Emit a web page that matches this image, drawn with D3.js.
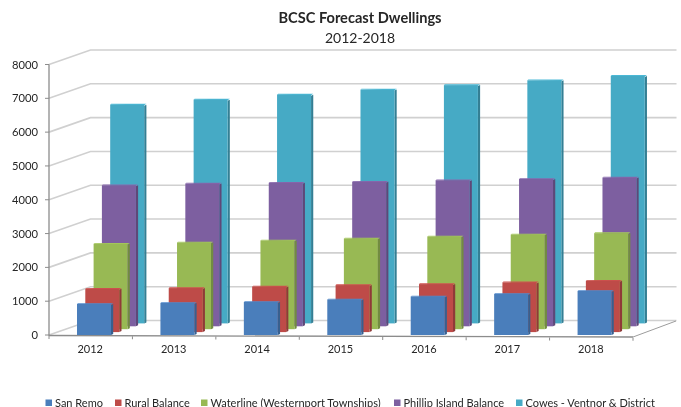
<!DOCTYPE html>
<html><head><meta charset="utf-8">
<script src="https://cdn.jsdelivr.net/npm/d3@7/dist/d3.min.js"></script>
<style>html,body{margin:0;background:#fff}svg{display:block;filter:blur(.35px)}text{font-family:Lato,"Open Sans",sans-serif;fill:#262626}</style>
</head><body><svg id="c" width="681" height="407"></svg>
<script>
const title = "BCSC Forecast Dwellings";
const subtitle = "2012-2018";
const years = ["2012","2013","2014","2015","2016","2017","2018"];
const yTicks = [0,1000,2000,3000,4000,5000,6000,7000,8000];
const seriesNames = ["San Remo","Rural Balance","Waterline (Westernport Townships)","Phillip Island Balance","Cowes - Ventnor & District"];
const sanRemo = [917,947,976,1050,1139,1213,1302];
const ruralBalance = [1281,1302,1346,1391,1420,1470,1518];
const waterline = [2527,2565,2624,2683,2743,2802,2840];
const phillipIsland = [4172,4222,4246,4275,4320,4358,4399];
const cowes = [6470,6618,6766,6914,7047,7189,7320];
const seriesValues = [sanRemo,ruralBalance,waterline,phillipIsland,cowes];
const colors = ["#4a7ebb","#be4b48","#98b954","#7d5fa0","#46aac5"];
const sideColors = ["#38608f","#8f3a38","#728c40","#5e4878","#347f94"];
const legendX = [45.5,115,201,394,516];

const svg = d3.select("#c");
const y = d3.scaleLinear().domain([0,8000]).range([335,64.5]);
const x = d3.scaleBand().domain(years).range([49,633]);
const depthX = d3.scaleLinear().domain([0,1]).range([0,41.5]);
const depthY = d3.scaleLinear().domain([0,1]).range([0,-14.5]);
const slot = d3.scalePoint().domain(d3.range(5)).range([0,0.8]);
const barW = 34, side = 2.2, barInset = 28;

const grid = svg.append("g");
yTicks.forEach(t=>{
  const px = y(t);
  grid.append("path").attr("fill","none").attr("stroke","#d0d0d0").attr("stroke-width",1.6)
    .attr("d",d3.line()([[49,px],[49+depthX(1),px+depthY(1)],[633+depthX(1)+2,px+depthY(1)]]));
});
const axisCol="#8c8c8c";
svg.append("line").attr("x1",49).attr("x2",49).attr("y1",y(8000)).attr("y2",y(0)+1).attr("stroke",axisCol).attr("stroke-width",1.3);
svg.append("line").attr("x1",49).attr("x2",633).attr("y1",y(0)+.5).attr("y2",y(0)+2).attr("stroke",axisCol).attr("stroke-width",1.3);
svg.append("line").attr("x1",633).attr("x2",676).attr("y1",y(0)+2).attr("y2",y(0)-14).attr("stroke","#9c9c9c").attr("stroke-width",1);
yTicks.forEach(t=>{
  svg.append("line").attr("x1",45).attr("x2",49).attr("y1",y(t)).attr("y2",y(t)).attr("stroke",axisCol).attr("stroke-width",1);
  svg.append("text").attr("x",38).attr("y",y(t)+4).attr("text-anchor","end").attr("font-size",11.2).text(t);
});
years.concat("end").forEach((yr,i)=>{
  const px = 49 + i*x.step();
  svg.append("line").attr("x1",px).attr("x2",px).attr("y1",y(0)+1+i*0.25).attr("y2",y(0)+4+i*0.25).attr("stroke",axisCol).attr("stroke-width",1);
});
years.forEach(yr=>{
  svg.append("text").attr("x",x(yr)+x.bandwidth()/2-0.5).attr("y",353).attr("text-anchor","middle").attr("font-size",11).text(yr);
});
d3.range(4,-1,-1).forEach(s=>{
  const dx = depthX(slot(s)), dy = depthY(slot(s));
  const g = svg.append("g");
  years.forEach((yr,i)=>{
    const v = seriesValues[s][i];
    const x0 = x(yr)+barInset+dx, top = y(v)+dy, base = y(0)+dy;
    g.append("path").attr("fill",sideColors[s]).attr("d",d3.line()([[x0+barW,top+1],[x0+barW+side,top],[x0+barW+side,base-1],[x0+barW,base]]));
    g.append("path").attr("fill",d3.color(colors[s]).brighter(.25)).attr("d",d3.line()([[x0,top],[x0+1,top-.8],[x0+barW+side,top-.8],[x0+barW,top+.6]]));
    g.append("rect").attr("x",x0).attr("y",top).attr("width",barW).attr("height",base-top).attr("fill",colors[s]);
  });
});
svg.append("text").attr("x",360).attr("y",23).attr("text-anchor","middle").attr("font-size",14.6).attr("font-weight",700).text(title);
svg.append("text").attr("x",360).attr("y",43).attr("text-anchor","middle").attr("font-size",14).text(subtitle);
seriesNames.forEach((n,i)=>{
  svg.append("rect").attr("x",legendX[i]).attr("y",399.5).attr("width",6.5).attr("height",6.5).attr("fill",colors[i]);
  svg.append("text").attr("x",legendX[i]+9.5).attr("y",406.5).attr("font-size",11).text(n);
});
</script></body></html>
